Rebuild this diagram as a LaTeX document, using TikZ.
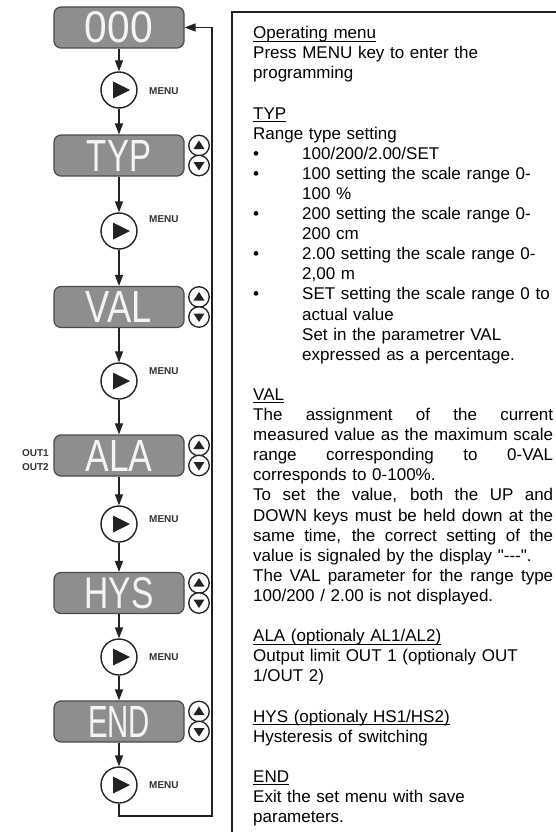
\documentclass[tikz,border=0pt]{standalone}
\usepackage{fontspec}
\setmainfont{Liberation Sans}[Ligatures=TeXOff]
\usepackage{graphicx}
\usetikzlibrary{arrows.meta}
\definecolor{dgray}{HTML}{8E8E8E}
\definecolor{dborder}{HTML}{4A4A4A}
\definecolor{ink}{HTML}{222222}
\definecolor{lblgray}{HTML}{333333}
\definecolor{segwhite}{HTML}{F4F4F4}
\newcommand\myul[1]{\leavevmode\setbox0\hbox{#1}\rlap{\rule[-3pt]{\wd0}{1.1pt}}\box0}
\newcommand\bul{\makebox[49pt][l]{\textbullet}}
\newcommand\ind{\leavevmode\hspace*{49pt}}
\newcommand\jl[1]{\leavevmode\hbox to 300pt{\spaceskip=\fontdimen2\font plus 1fil\relax #1}}
\newcommand\dtxt[2]{\resizebox{#1}{31pt}{#2}}
\begin{document}
\begin{tikzpicture}[x=1pt,y=-1pt,
  disp/.style={draw=dborder, line width=1.2pt, fill=dgray, rounded corners=7pt,
    minimum width=130pt, minimum height=41pt, inner sep=0pt, text=segwhite},
  menubtn/.style={circle, draw=ink, line width=1.4pt, fill=white, minimum size=36pt, inner sep=0pt},
  updn/.style={circle, draw=ink, line width=1.3pt, fill=white, minimum size=20.5pt, inner sep=0pt},
  lbl/.style={font=\fontsize{10}{12}\selectfont\bfseries, text=lblgray, inner sep=0pt},
  conn/.style={draw=ink, line width=1.4pt, -{Triangle[length=11pt,width=8pt]}},
]
\useasboundingbox (0,0) rectangle (555,832);

% right description box
\draw[ink, line width=1.5pt] (232,845) -- (232,12) -- (565,12);

% displays
\node[disp] (d0) at (119,27.5) {\dtxt{68pt}{000}};
\node[disp] (d1) at (119,155.5) {\dtxt{64pt}{TYP}};
\node[disp] (d2) at (119,307) {\dtxt{66pt}{VAL}};
\node[disp] (d3) at (119,455.5) {\dtxt{67pt}{ALA}};
\node[disp] (d4) at (119,593) {\dtxt{69pt}{HYS}};
\node[disp] (d5) at (119,721.5) {\dtxt{62pt}{END}};

% menu buttons
\node[menubtn] (c1) at (119,90) {};
\node[menubtn] (c2) at (119,231) {};
\node[menubtn] (c3) at (119,381) {};
\node[menubtn] (c4) at (119,524) {};
\node[menubtn] (c5) at (119,657) {};
\node[menubtn] (c6) at (119,785) {};
\foreach \n in {c1,c2,c3,c4,c5,c6}
  \fill[ink, shift={(\n)}] (-6,-8.5) -- (-6,8.5) -- (11,0) -- cycle;

% MENU labels
\node[lbl, anchor=west] (m1) at (149,91) {MENU};
\node[lbl, anchor=west] (m2) at (149,219) {MENU};
\node[lbl, anchor=west] (m3) at (149,371) {MENU};
\node[lbl, anchor=west] (m4) at (149,519) {MENU};
\node[lbl, anchor=west] (m5) at (149,657) {MENU};
\node[lbl, anchor=west] (m6) at (149,785) {MENU};

% OUT labels
\node[lbl, anchor=east] (o1) at (49,453) {OUT1};
\node[lbl, anchor=east] (o2) at (49,467) {OUT2};

% up/down buttons
\foreach \i/\y in {1/155.5,2/307,3/455.5,4/593,5/721.5}{
  \node[updn] (up\i) at (199,\y-10) {};
  \node[updn] (dn\i) at (199,\y+10) {};
  \fill[ink, shift={(up\i)}] (-5.5,3.5) -- (5.5,3.5) -- (0,-5) -- cycle;
  \fill[ink, shift={(dn\i)}] (-5.5,-3.5) -- (5.5,-3.5) -- (0,5) -- cycle;
}

% connectors
\draw[conn] (d0) -- (c1);
\draw[conn] (c1) -- (d1);
\draw[conn] (d1) -- (c2);
\draw[conn] (c2) -- (d2);
\draw[conn] (d2) -- (c3);
\draw[conn] (c3) -- (d3);
\draw[conn] (d3) -- (c4);
\draw[conn] (c4) -- (d4);
\draw[conn] (d4) -- (c5);
\draw[conn] (c5) -- (d5);
\draw[conn] (d5) -- (c6);
\coordinate (fb) at (212,816);
\draw[conn] (c6.south) |- (fb) |- (d0.east);

% description text
\node[anchor=north west, inner sep=0pt, text width=300pt, align=left,
      font=\fontsize{17}{20.1}\selectfont] (desc) at (253,24.5) {%
\rule{0pt}{14pt}\myul{Operating menu}\\
Press MENU key to enter the\\
programming\\
\mbox{}\\
\myul{TYP}\\
Range type setting\\
\bul 100/200/2.00/SET\\
\bul 100 setting the scale range 0-\\
\ind 100 \%\\
\bul 200 setting the scale range 0-\\
\ind 200 cm\\
\bul 2.00 setting the scale range 0-\\
\ind 2,00 m\\
\bul SET setting the scale range 0 to\\
\ind actual value\\
\ind Set in the parametrer VAL\\
\ind expressed as a percentage.\\
\mbox{}\\
\myul{VAL}\\
\jl{The assignment of the current}\\
\jl{measured value as the maximum scale}\\
\jl{range corresponding to 0-VAL}\\
corresponds to 0-100\%.\\
\jl{To set the value, both the UP and}\\
\jl{DOWN keys must be held down at the}\\
\jl{same time, the correct setting of the}\\
value is signaled by the display "---".\\
\jl{The VAL parameter for the range type}\\
100/200 / 2.00 is not displayed.\\
\mbox{}\\
\myul{ALA (optionaly AL1/AL2)}\\
Output limit OUT 1 (optionaly OUT\\
1/OUT 2)\\
\mbox{}\\
\myul{HYS (optionaly HS1/HS2)}\\
Hysteresis of switching\\
\mbox{}\\
\myul{END}\\
Exit the set menu with save\\
parameters.};
\end{tikzpicture}
\end{document}
